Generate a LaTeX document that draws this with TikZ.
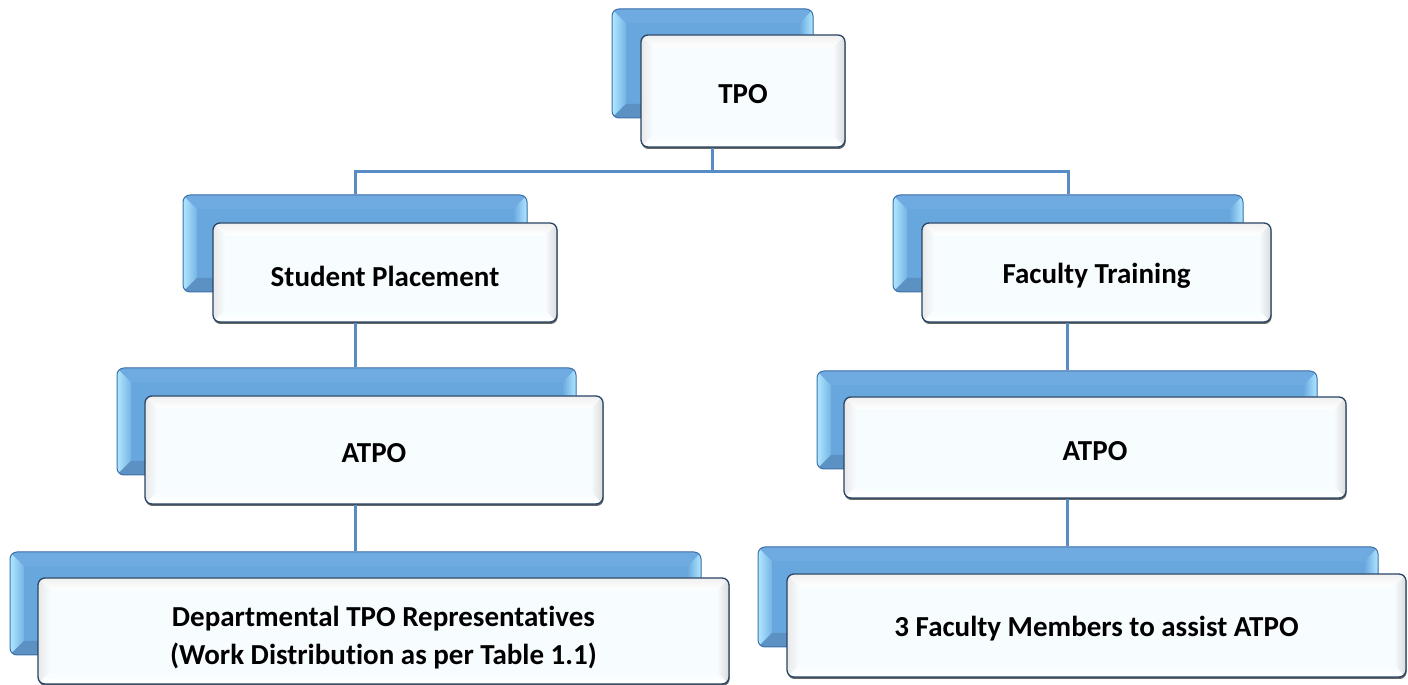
\documentclass[tikz,border=0pt]{standalone}
\usepackage{fontspec}
\setmainfont{Carlito}[RawFeature=-liga]
\definecolor{bblue}{RGB}{104,166,222}
\definecolor{bedge}{RGB}{62,112,168}
\definecolor{bcyan}{RGB}{175,232,255}
\definecolor{conncol}{RGB}{88,140,196}
\definecolor{fface}{RGB}{247,252,255}
\definecolor{fedge}{RGB}{40,68,102}
\newcommand\lowtext[1]{\raisebox{-3.5pt}[\height][\depth]{#1}}
\tikzset{
  backbox/.style={draw=bedge, line width=1pt, rounded corners=7pt, fill=bblue, inner sep=0pt,
    path picture={
      \coordinate (ppA) at (path picture bounding box.north west);
      \coordinate (ppB) at (path picture bounding box.north east);
      \coordinate (ppC) at (path picture bounding box.south east);
      \coordinate (ppD) at (path picture bounding box.south west);
      \shade[sharp corners, left color=bcyan, right color=bblue!80!bcyan] (ppA) -- ([shift={(14pt,-14pt)}]ppA) -- ([shift={(14pt,14pt)}]ppD) -- (ppD) -- cycle;
      \fill[sharp corners, bblue!88!black] (ppD) -- ([shift={(14pt,14pt)}]ppD) -- ([shift={(-14pt,14pt)}]ppC) -- (ppC) -- cycle;
      \shade[sharp corners, left color=bblue, right color=bcyan] (ppB) -- ([shift={(-14pt,-14pt)}]ppB) -- ([shift={(-14pt,14pt)}]ppC) -- (ppC) -- cycle;
      \fill[sharp corners, bblue!95!white] (ppA) -- (ppB) -- ([shift={(-14pt,-14pt)}]ppB) -- ([shift={(14pt,-14pt)}]ppA) -- cycle;
    }},
  frontbox/.style={draw=fedge, line width=1.3pt, rounded corners=7pt, fill=fface, inner sep=0pt,
    align=center, font=\bfseries\fontsize{29}{38}\selectfont,
    preaction={fill=black!60, transform canvas={shift={(0.6pt,-2pt)}}},
    path picture={
      \coordinate (ppA) at (path picture bounding box.north west);
      \coordinate (ppB) at (path picture bounding box.north east);
      \coordinate (ppC) at (path picture bounding box.south east);
      \coordinate (ppD) at (path picture bounding box.south west);
      \shade[sharp corners, left color=gray!18, right color=fface] (ppA) -- ([shift={(12pt,-12pt)}]ppA) -- ([shift={(12pt,12pt)}]ppD) -- (ppD) -- cycle;
      \shade[sharp corners, top color=fface, bottom color=white] (ppD) -- ([shift={(12pt,12pt)}]ppD) -- ([shift={(-12pt,12pt)}]ppC) -- (ppC) -- cycle;
      \shade[sharp corners, left color=fface, right color=gray!28] (ppB) -- ([shift={(-12pt,-12pt)}]ppB) -- ([shift={(-12pt,12pt)}]ppC) -- (ppC) -- cycle;
      \shade[sharp corners, top color=gray!12, bottom color=white] (ppA) -- (ppB) -- ([shift={(-12pt,-12pt)}]ppB) -- ([shift={(12pt,-12pt)}]ppA) -- cycle;
    }},
  conn/.style={draw=conncol, line width=3pt}
}
\begin{document}
\begin{tikzpicture}[x=1pt, y=1pt]
\useasboundingbox (0,0) rectangle (1408,685);
% back boxes
\node[backbox, minimum width=201pt, minimum height=109pt] (tpoB) at (712.5,621.5) {};
\node[backbox, minimum width=344pt, minimum height=97pt] (spB) at (355,441.5) {};
\node[backbox, minimum width=350pt, minimum height=97pt] (ftB) at (1068,441.5) {};
\node[backbox, minimum width=459pt, minimum height=107pt] (alB) at (346.5,263.5) {};
\node[backbox, minimum width=500pt, minimum height=98pt] (arB) at (1067,265) {};
\node[backbox, minimum width=691pt, minimum height=103pt] (blB) at (355.5,81.5) {};
\node[backbox, minimum width=620pt, minimum height=100pt] (brB) at (1068,88) {};
% front boxes
\node[frontbox, minimum width=204pt, minimum height=112pt] (tpo) at (743,594) {\lowtext{TPO}};
\node[frontbox, minimum width=344pt, minimum height=99pt] (sp) at (385,412.5) {\lowtext{Student Placement}};
\node[frontbox, minimum width=349pt, minimum height=99pt] (ft) at (1096.5,412.5) {\lowtext{Faculty Training}};
\node[frontbox, minimum width=458pt, minimum height=108pt] (al) at (374,235) {\lowtext{ATPO}};
\node[frontbox, minimum width=502pt, minimum height=101pt] (ar) at (1095,237.5) {\lowtext{ATPO}};
\node[frontbox, minimum width=691pt, minimum height=106pt] (bl) at (383.5,54) {\rule{0pt}{34pt}Departmental TPO Representatives\\(Work Distribution as per Table 1.1)};
\node[frontbox, minimum width=619pt, minimum height=103pt] (br) at (1096.5,59.5) {\lowtext{3 Faculty Members to assist ATPO}};
% connectors
\coordinate (jn) at ([yshift=-24pt]tpo.south -| tpoB.center);
\draw[conn] (tpo.south -| tpoB.center) -- (jn);
\draw[conn] (spB.north) |- (jn) -| (ftB.north);
\draw[conn] (sp.south -| spB.center) -- (alB.north -| spB.center);
\draw[conn] (al.south -| spB.center) -- (blB.north -| spB.center);
\draw[conn] (ft.south -| arB.center) -- (arB.north);
\draw[conn] (ar.south -| arB.center) -- (brB.north -| arB.center);
\end{tikzpicture}
\end{document}
